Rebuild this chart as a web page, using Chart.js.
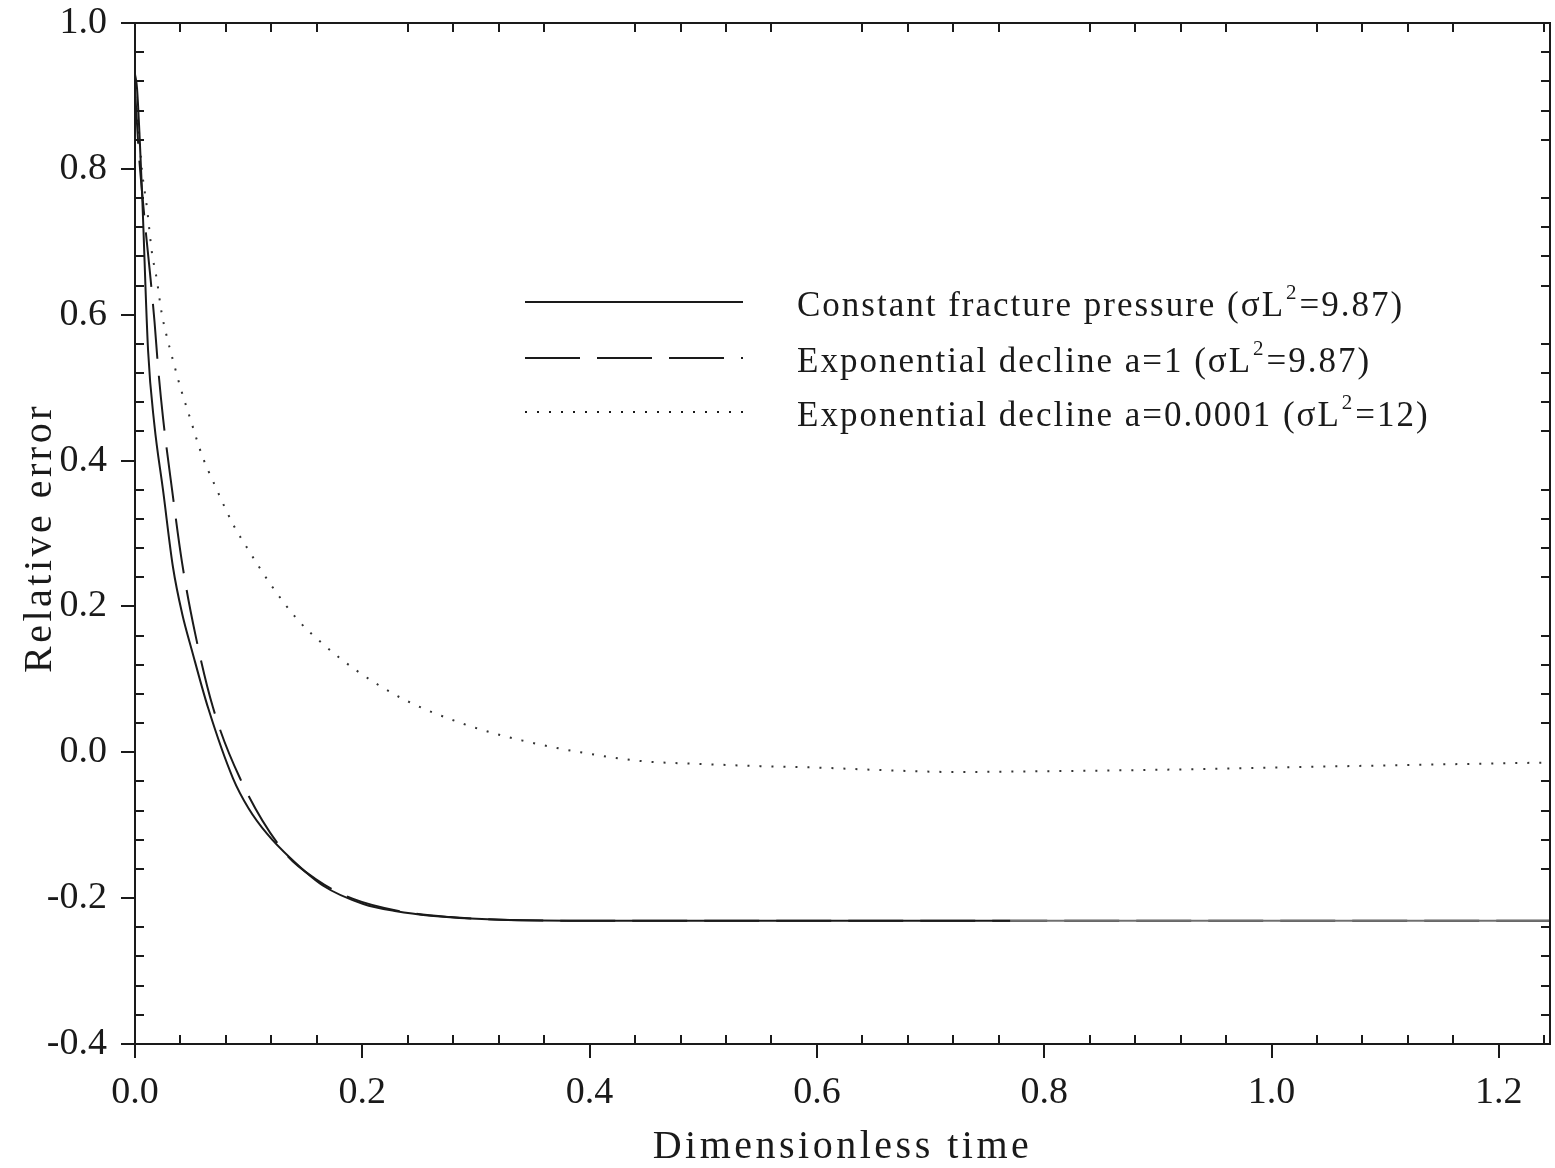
<!DOCTYPE html>
<html lang="en">
<head>
<meta charset="UTF-8">
<title>Relative error vs dimensionless time</title>
<style>
    body { margin: 0; background: #fff; }
    #wrap { width: 1555px; height: 1168px; }
</style>
</head>
<body>
<div id="wrap"><canvas id="errChart"></canvas></div>

<script src="https://cdn.jsdelivr.net/npm/chart.js"></script>
<script>
    // axis ticks
    const xTicks = [0, 0.2, 0.4, 0.6, 0.8, 1.0, 1.2];
    const yTicks = [-0.4, -0.2, 0, 0.2, 0.4, 0.6, 0.8, 1.0];
    const minorStep = 0.04;

    // constant fracture pressure (sigma L^2 = 9.87)
    const tConst = [0, 0.0018, 0.0062, 0.0115, 0.017, 0.0247, 0.0335, 0.0415, 0.0502, 0.0643, 0.0863, 0.1,
        0.1163, 0.1366, 0.1656, 0.2009, 0.23, 0.26, 0.32, 0.41, 0.5, 0.6, 0.7, 0.77, 0.9, 1.0, 1.1, 1.245];
    const errConst = [0.93, 0.91, 0.767, 0.551, 0.45, 0.359, 0.253, 0.19, 0.139, 0.061, -0.036, -0.077,
        -0.112, -0.145, -0.183, -0.208, -0.218, -0.224, -0.2297, -0.231, -0.231, -0.231, -0.231, -0.231, -0.231,
        -0.231, -0.231, -0.231];

    // exponential decline a=1 (sigma L^2 = 9.87)
    const tDecl1 = [0, 0.003, 0.0088, 0.0132, 0.0172, 0.0203, 0.0247, 0.0326, 0.0414, 0.0529, 0.0687, 0.0925,
        0.1304, 0.16, 0.192, 0.2335, 0.2775, 0.33, 0.4, 0.6, 0.8, 1.0, 1.245];
    const errDecl1 = [0.91, 0.83, 0.725, 0.657, 0.59, 0.528, 0.458, 0.36, 0.26, 0.163, 0.061, -0.036,
        -0.135, -0.175, -0.201, -0.218, -0.226, -0.23, -0.231, -0.231, -0.231, -0.231, -0.231];

    // exponential decline a=0.0001 (sigma L^2 = 12)
    const tDecl2 = [0, 0.003, 0.006, 0.0105, 0.015, 0.019, 0.0235, 0.028, 0.0335, 0.04, 0.0485, 0.059, 0.07, 0.0865,
        0.1, 0.119, 0.143, 0.165, 0.195, 0.236, 0.289, 0.341, 0.392, 0.445, 0.498, 0.55, 0.6, 0.65, 0.72, 0.8, 0.9,
        1.0, 1.1, 1.245];
    const errDecl2 = [0.9, 0.86, 0.8, 0.747, 0.684, 0.65, 0.602, 0.57, 0.537, 0.5, 0.458, 0.407, 0.367, 0.312,
        0.277, 0.231, 0.182, 0.149, 0.112, 0.073, 0.039, 0.016, 0.0, -0.012, -0.016, -0.019, -0.021, -0.024, -0.027,
        -0.026, -0.024, -0.021, -0.018, -0.014];

    const seriesNames = [
        ['Constant fracture pressure (\u03C3L', '2', '=9.87)'],
        ['Exponential decline a=1 (\u03C3L', '2', '=9.87)'],
        ['Exponential decline a=0.0001 (\u03C3L', '2', '=12)']
    ];

    const INK = '#1a1a1a';
    const SERIF = '"Liberation Serif", "Times New Roman", serif';

    function pairs(xs, ys) {
        return xs.map((x, i) => ({ x: x, y: ys[i] }));
    }

    // frame plus ticks: majors outside on left/bottom, minors inside on all four sides
    const frameTicks = {
        id: 'frameTicks',
        afterDraw(chart) {
            const { ctx, chartArea: a, scales: { x, y } } = chart;
            ctx.save();
            ctx.strokeStyle = INK;
            ctx.lineWidth = 2;
            ctx.strokeRect(a.left, a.top, a.right - a.left, a.bottom - a.top);
            ctx.beginPath();
            for (let i = 0; i * minorStep <= x.max + 1e-9; i++) {
                const px = Math.round(x.getPixelForValue(i * minorStep));
                if (i % 5 === 0) {
                    ctx.moveTo(px, a.bottom); ctx.lineTo(px, a.bottom + 14);
                } else {
                    ctx.moveTo(px, a.bottom); ctx.lineTo(px, a.bottom - 9);
                    ctx.moveTo(px, a.top); ctx.lineTo(px, a.top + 9);
                }
            }
            for (let i = 0; y.min + i * minorStep <= y.max + 1e-9; i++) {
                const py = Math.round(y.getPixelForValue(y.min + i * minorStep));
                if (i % 5 === 0) {
                    ctx.moveTo(a.left, py); ctx.lineTo(a.left - 14, py);
                } else {
                    ctx.moveTo(a.left, py); ctx.lineTo(a.left + 9, py);
                    ctx.moveTo(a.right, py); ctx.lineTo(a.right - 9, py);
                }
            }
            ctx.stroke();
            ctx.restore();
        }
    };

    // axis titles, letter-spaced
    const axisTitles = {
        id: 'axisTitles',
        afterDraw(chart) {
            const { ctx, chartArea: a } = chart;
            ctx.save();
            ctx.fillStyle = INK;
            ctx.font = '40px ' + SERIF;
            ctx.letterSpacing = '3.5px';
            ctx.textAlign = 'center';
            ctx.textBaseline = 'middle';
            ctx.fillText('Dimensionless time', (a.left + a.right) / 2, 1147);
            ctx.translate(40, 538);
            ctx.rotate(-Math.PI / 2);
            ctx.fillText('Relative error', 0, 0);
            ctx.restore();
        }
    };

    // legend inside the plot
    const insideLegend = {
        id: 'insideLegend',
        afterDraw(chart) {
            const ctx = chart.ctx;
            const rows = [302, 358, 412];
            ctx.save();
            chart.data.datasets.forEach((ds, i) => {
                const yy = rows[i];
                ctx.strokeStyle = INK;
                ctx.lineWidth = 2;
                ctx.setLineDash(ds.borderDash || []);
                ctx.beginPath();
                ctx.moveTo(525, yy);
                ctx.lineTo(743, yy);
                ctx.stroke();
                ctx.setLineDash([]);

                const parts = seriesNames[i];
                ctx.fillStyle = INK;
                ctx.textBaseline = 'alphabetic';
                ctx.letterSpacing = '2px';
                ctx.font = '35px ' + SERIF;
                let xx = 797;
                const base = yy + 14;
                ctx.fillText(parts[0], xx, base);
                xx += ctx.measureText(parts[0]).width;
                ctx.font = '21px ' + SERIF;
                ctx.fillText(parts[1], xx + 1, base - 17);
                xx += ctx.measureText(parts[1]).width + 2;
                ctx.font = '35px ' + SERIF;
                ctx.fillText(parts[2], xx, base);
            });
            ctx.restore();
        }
    };

    const config = {
        type: 'line',
        data: {
            datasets: [
                {
                    label: 'Constant fracture pressure',
                    data: pairs(tConst, errConst),
                    borderColor: INK,
                    borderWidth: 2,
                    // the long plateau is printed lighter
                    segment: {
                        borderColor: c => c.p0.parsed.x >= 0.77 ? '#707070' : INK
                    }
                },
                {
                    label: 'Exponential decline a=1',
                    data: pairs(tDecl1, errDecl1),
                    borderColor: INK,
                    borderWidth: 2,
                    borderDash: [55, 17]
                },
                {
                    label: 'Exponential decline a=0.0001',
                    data: pairs(tDecl2, errDecl2),
                    borderColor: '#333',
                    borderWidth: 2,
                    borderDash: [2, 10]
                }
            ]
        },
        options: {
            responsive: true,
            maintainAspectRatio: false,
            animation: false,
            parsing: false,
            elements: {
                point: { radius: 0 },
                line: { cubicInterpolationMode: 'monotone', fill: false }
            },
            layout: { padding: { top: 23, right: 5, left: 0, bottom: 0 } },
            plugins: {
                legend: { display: false },
                tooltip: { enabled: false }
            },
            scales: {
                x: {
                    type: 'linear',
                    min: 0,
                    max: 1.245,
                    afterBuildTicks: s => { s.ticks = xTicks.map(v => ({ value: v })); },
                    afterFit: s => { s.height = 124; s.paddingLeft = 0; s.paddingRight = 0; },
                    grid: { display: false, drawTicks: false },
                    border: { display: false },
                    ticks: {
                        color: INK,
                        padding: 26,
                        maxRotation: 0,
                        font: { family: SERIF, size: 38 },
                        callback: v => Number(v).toFixed(1)
                    }
                },
                y: {
                    type: 'linear',
                    min: -0.4,
                    max: 1.0,
                    afterBuildTicks: s => { s.ticks = yTicks.map(v => ({ value: v })); },
                    afterFit: s => { s.width = 135; s.paddingTop = 0; s.paddingBottom = 0; },
                    grid: { display: false, drawTicks: false },
                    border: { display: false },
                    ticks: {
                        color: INK,
                        padding: 28,
                        font: { family: SERIF, size: 38 },
                        callback: v => Number(v).toFixed(1)
                    }
                }
            }
        },
        plugins: [frameTicks, axisTitles, insideLegend]
    };

    new Chart(document.getElementById('errChart'), config);
</script>
</body>
</html>
